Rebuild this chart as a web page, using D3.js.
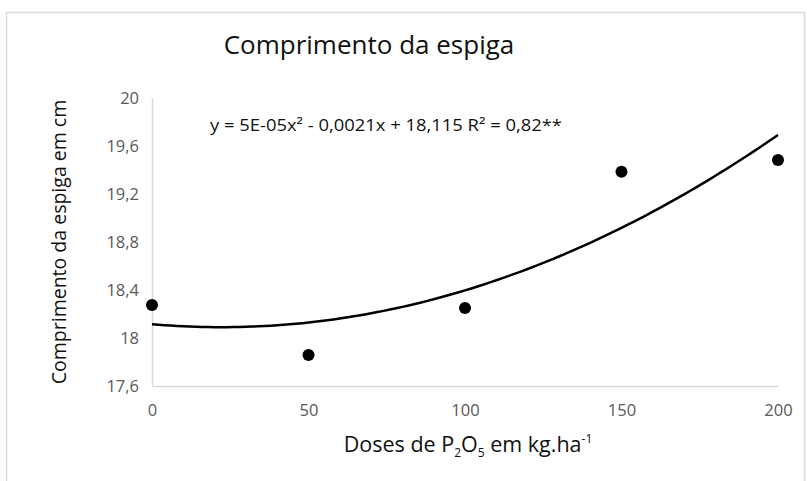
<!DOCTYPE html>
<html>
<head>
<meta charset="utf-8">
<script src="https://cdn.jsdelivr.net/npm/d3@7"></script>
<style>
  html, body { margin: 0; padding: 0; background: #fff; }
  svg { display: block; }
  text { font-family: "Open Sans", "Noto Sans", sans-serif; }
</style>
</head>
<body>
<svg id="chart" width="807" height="481"></svg>
<script>
// ---- data ----
const doses = [0, 50, 100, 150, 200];
const comprimento = [18.275, 17.858, 18.25, 19.385, 19.483];
const xTicks = [0, 50, 100, 150, 200];
const yTicks = [17.6, 18, 18.4, 18.8, 19.2, 19.6, 20];
const titleText = "Comprimento da espiga";
const yTitleText = "Comprimento da espiga em cm";
const equationText = "y = 5E-05x² - 0,0021x + 18,115  R² = 0,82**";

// ---- layout ----
const W = 807, H = 481;
const svg = d3.select("#chart");
const fmt = v => (Math.round(v * 10) / 10).toString().replace(".", ",");

const x = d3.scaleLinear().domain([0, 200]).range([152, 778]);
const y = d3.scaleLinear().domain([17.6, 20]).range([386, 98]);

// outer frame
svg.append("rect").attr("x", 6.5).attr("y", 12.5).attr("width", 798).attr("height", 480)
  .attr("fill", "#fff").attr("stroke", "#d9d9d9").attr("stroke-width", 1.5);

// axes
const xAxis = svg.append("g").attr("transform", `translate(0,${y(17.6)})`)
  .call(d3.axisBottom(x).tickValues(xTicks).tickSize(0).tickPadding(18).tickFormat(d => d));
const yAxis = svg.append("g").attr("transform", `translate(${x(0)},0)`)
  .call(d3.axisLeft(y).tickValues(yTicks).tickSize(0).tickPadding(13).tickFormat(fmt));
[xAxis, yAxis].forEach(g => {
  g.select(".domain").attr("stroke", "#d9d9d9").attr("stroke-width", 1.5);
  g.selectAll("text").attr("fill", "#595959").attr("font-size", 16.5).attr("font-family", "Open Sans");
});

// quadratic least-squares fit of the data (trendline)
function polyfit2(xs, ys) {
  const n = xs.length;
  let s = [0,0,0,0,0], t = [0,0,0];
  for (let i = 0; i < n; i++) {
    for (let k = 0; k < 5; k++) s[k] += Math.pow(xs[i], k);
    for (let k = 0; k < 3; k++) t[k] += ys[i] * Math.pow(xs[i], k);
  }
  const A = [[s[0], s[1], s[2], t[0]], [s[1], s[2], s[3], t[1]], [s[2], s[3], s[4], t[2]]];
  for (let i = 0; i < 3; i++) {
    for (let j = i + 1; j < 3; j++) {
      const f = A[j][i] / A[i][i];
      for (let k = i; k < 4; k++) A[j][k] -= f * A[i][k];
    }
  }
  const c = [0,0,0];
  for (let i = 2; i >= 0; i--) {
    let v = A[i][3];
    for (let k = i + 1; k < 3; k++) v -= A[i][k] * c[k];
    c[i] = v / A[i][i];
  }
  return c;
}
const coef = polyfit2(doses, comprimento);
const curveX = d3.range(0, 200.01, 2);
const line = d3.line().x(d => x(d)).y(d => y(coef[0] + coef[1] * d + coef[2] * d * d)).curve(d3.curveLinear);
svg.append("path").datum(curveX).attr("d", line)
  .attr("fill", "none").attr("stroke", "#000").attr("stroke-width", 2.5);

// points
svg.selectAll("circle.pt").data(doses).enter().append("circle").attr("class", "pt")
  .attr("cx", (d) => x(d)).attr("cy", (d, i) => y(comprimento[i])).attr("r", 6).attr("fill", "#000");

// title
svg.append("text").attr("x", 369).attr("y", 54).attr("text-anchor", "middle")
  .attr("font-size", 26).attr("fill", "#111").text(titleText);

// equation
svg.append("text").attr("x", 210).attr("y", 131).attr("font-size", 17).attr("fill", "#111")
  .attr("textLength", 352).attr("lengthAdjust", "spacingAndGlyphs")
  .text(equationText);

// y title
svg.append("text").attr("transform", `translate(66,${y(18.8)}) rotate(-90)`).attr("text-anchor", "middle")
  .attr("font-size", 19.5).attr("fill", "#111").text(yTitleText);

// x title with subscripts/superscript
const xt = svg.append("text").attr("x", 468).attr("y", 452).attr("text-anchor", "middle")
  .attr("font-size", 21.5).attr("fill", "#111");
xt.append("tspan").text("Doses de P");
xt.append("tspan").attr("font-size", 12).attr("dy", 5).text("2");
xt.append("tspan").attr("dy", -5).text("O");
xt.append("tspan").attr("font-size", 12).attr("dy", 5).text("5");
xt.append("tspan").attr("dy", -5).text(" em kg.ha");
xt.append("tspan").attr("font-size", 12).attr("dy", -9).text("-1");
</script>
</body>
</html>
